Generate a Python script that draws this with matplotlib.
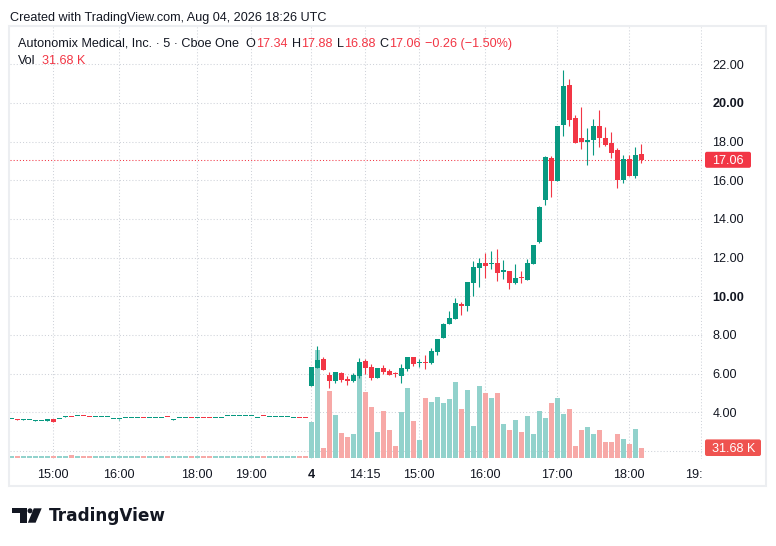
import matplotlib
matplotlib.use("Agg")
import matplotlib.pyplot as plt
import matplotlib.transforms as mtransforms
from matplotlib.patches import Rectangle, FancyBboxPatch, Polygon, Circle
import numpy as np

# ---------------- data ----------------
# previous session (Aug 03, late hours), 5-minute bars
prev_open = [3.64, 3.63, 3.62, 3.61, 3.57, 3.56, 3.55, 3.65, 3.64, 3.74, 3.75, 3.78, 3.80, 3.75,
             3.73, 3.73, 3.73, 3.66, 3.64, 3.68, 3.68, 3.71, 3.70, 3.71, 3.68, 3.68, 3.75, 3.62,
             3.68, 3.71, 3.70, 3.68, 3.70, 3.70, 3.68, 3.68, 3.78, 3.78, 3.78, 3.78, 3.78, 3.71,
             3.80, 3.73, 3.73, 3.73, 3.73, 3.69, 3.70, 3.70]
prev_close = [3.65, 3.62, 3.63, 3.62, 3.58, 3.57, 3.65, 3.48, 3.65, 3.75, 3.74, 3.79, 3.79, 3.74,
              3.74, 3.74, 3.74, 3.67, 3.65, 3.69, 3.69, 3.72, 3.69, 3.72, 3.69, 3.69, 3.74, 3.63,
              3.69, 3.72, 3.69, 3.69, 3.69, 3.69, 3.69, 3.69, 3.79, 3.79, 3.79, 3.79, 3.79, 3.72,
              3.79, 3.74, 3.74, 3.74, 3.74, 3.70, 3.69, 3.69]
prev_high = [3.66, 3.63, 3.67, 3.62, 3.58, 3.57, 3.66, 3.66, 3.65, 3.80, 3.75, 3.80, 3.80, 3.75,
             3.74, 3.74, 3.74, 3.67, 3.65, 3.69, 3.69, 3.72, 3.70, 3.72, 3.69, 3.69, 3.75, 3.63,
             3.69, 3.72, 3.70, 3.69, 3.70, 3.70, 3.69, 3.69, 3.79, 3.79, 3.79, 3.79, 3.79, 3.72,
             3.80, 3.74, 3.74, 3.74, 3.74, 3.70, 3.70, 3.70]
prev_low = [3.63, 3.58, 3.62, 3.61, 3.55, 3.56, 3.55, 3.48, 3.64, 3.74, 3.74, 3.78, 3.79, 3.74,
            3.73, 3.73, 3.73, 3.66, 3.62, 3.68, 3.68, 3.71, 3.69, 3.71, 3.68, 3.68, 3.74, 3.62,
            3.68, 3.71, 3.69, 3.68, 3.69, 3.69, 3.68, 3.68, 3.78, 3.78, 3.78, 3.78, 3.78, 3.71,
            3.79, 3.73, 3.73, 3.73, 3.73, 3.69, 3.69, 3.69]
prev_volume_k = [4, 4, 4, 4, 4, 4, 5, 5, 4, 4, 9, 4, 4, 4, 4, 4, 4, 4, 4, 4, 4, 4, 4, 4, 4,
                 4, 4, 4, 4, 4, 4, 4, 4, 4, 4, 4, 4, 4, 4, 4, 4, 4, 4, 4, 4, 4, 4, 4, 4, 4]

# Aug 04 session, 5-minute bars
day_open = [5.38, 6.31, 6.75, 5.93, 5.63, 6.03, 5.72, 5.62, 5.87, 6.65, 6.34, 5.77, 6.29, 6.13,
            6.01, 5.87, 6.24, 6.86, 6.55, 6.60, 6.55, 7.12, 7.84, 8.57, 8.83, 9.60, 9.50, 10.69,
            11.46, 11.72, 11.67, 11.72, 11.27, 11.31, 10.69, 11.00, 10.84, 11.67, 12.81, 15.00,
            17.15, 15.98, 18.88, 20.93, 19.22, 18.19, 18.00, 18.09, 18.81, 18.19, 17.93, 17.58,
            16.03, 17.10, 16.24, 17.34]
day_high = [6.36, 7.44, 6.87, 6.08, 6.10, 6.06, 5.87, 6.01, 6.80, 6.74, 6.51, 6.31, 6.46, 6.25,
            6.10, 6.51, 6.88, 6.88, 6.75, 6.96, 7.32, 7.80, 8.60, 9.24, 9.93, 9.72, 10.76, 11.84,
            11.98, 12.24, 12.34, 12.45, 11.88, 11.33, 11.67, 11.31, 11.93, 12.66, 14.65, 17.26,
            17.26, 18.83, 21.70, 21.24, 19.38, 19.79, 18.70, 19.17, 19.64, 18.76, 18.50, 17.67,
            17.31, 17.31, 17.72, 17.88]
day_low = [5.36, 6.28, 6.16, 5.27, 5.53, 5.58, 5.43, 5.58, 5.79, 5.99, 5.67, 5.76, 5.99, 5.92,
           5.82, 5.53, 6.15, 6.39, 6.34, 6.25, 6.50, 6.98, 7.82, 8.55, 8.80, 9.05, 9.24, 10.02,
           10.48, 10.95, 11.41, 10.79, 10.89, 10.39, 10.64, 10.70, 10.82, 11.65, 12.78, 14.74,
           15.15, 15.96, 18.29, 18.83, 17.93, 17.64, 16.81, 17.33, 17.74, 17.79, 17.17, 15.62,
           15.88, 16.22, 16.14, 16.88]
day_close = [6.34, 6.70, 6.18, 5.62, 6.08, 5.67, 5.63, 5.93, 6.60, 6.31, 5.79, 6.29, 6.08, 5.93,
             5.96, 6.29, 6.86, 6.50, 6.60, 6.55, 7.17, 7.79, 8.57, 8.88, 9.65, 9.50, 10.74, 11.52,
             11.72, 11.57, 11.74, 11.22, 11.34, 10.69, 10.95, 10.95, 11.72, 12.65, 14.62, 17.20,
             15.98, 18.81, 20.88, 19.14, 17.95, 18.00, 18.09, 18.81, 18.21, 17.84, 17.43, 16.03,
             17.10, 16.24, 17.31, 17.06]
day_volume_k = [113, 341, 31, 211, 135, 78, 66, 75, 259, 208, 161, 81, 148, 88, 37, 145, 221, 116,
                56, 189, 176, 192, 173, 186, 240, 154, 214, 100, 227, 205, 189, 205, 107, 88, 119,
                81, 132, 75, 148, 126, 173, 189, 138, 154, 37, 88, 97, 75, 88, 50, 50, 75, 59, 43,
                91, 31.68]

# time-axis labels and the bar (counted from the first Aug 04 bar) each one sits on
tick_labels = ["15:00", "16:00", "18:00", "19:00", "4", "14:15", "15:00", "16:00", "17:00",
               "18:00", "19:00"]
tick_bars = [-43, -32, -19, -10, 0, 9, 18, 29, 41, 53, 65]
bold_tick_labels = ["4"]

price_grid = [2, 4, 6, 8, 10, 12, 14, 16, 18, 20, 22]
price_labels = [4, 6, 8, 10, 12, 14, 16, 18, 20, 22]
bold_prices = [10, 20]

last_price = 17.06
last_volume_k = 31.68
header_title = "Autonomix Medical, Inc. \u00b7 5 \u00b7 Cboe One"
ohlc_values = [("O", "17.34"), ("H", "17.88"), ("L", "16.88"), ("C", "17.06")]
change_text = "\u22120.26 (\u22121.50%)"
created_text = "Created with TradingView.com, Aug 04, 2026 18:26 UTC"

# ---------------- style ----------------
W, H = 776, 546
GREEN = "#089981"
RED = "#F23645"
VGREEN = "#92D2CC"
VRED = "#F7A9A7"
TXT = "#131722"
GRID = "#cfd2d9"
FONT = "Liberation Sans"
FS = 9.1

plt.rcParams["font.family"] = [FONT, "DejaVu Sans"]
fig = plt.figure(figsize=(W / 100, H / 100), dpi=100)
fig.patch.set_facecolor("white")

PX = mtransforms.Affine2D().scale(1.0 / W, -1.0 / H).translate(0, 1) + fig.transFigure


def fpos(xp, yp):
    return xp / W, 1 - yp / H


# pane geometry (pixels)
PL, PR, PT, PB = 10, 702, 27, 459
rect = [PL / W, 1 - PB / H, (PR - PL) / W, (PB - PT) / H]

vax = fig.add_axes(rect, zorder=1)
ax = fig.add_axes(rect, zorder=2, sharex=vax)
ax.patch.set_alpha(0)
for a in (ax, vax):
    a.set_axis_off()

n_prev = len(prev_close)
x = np.arange(-n_prev, len(day_close))
o = np.array(prev_open + day_open)
hi = np.array(prev_high + day_high)
lo = np.array(prev_low + day_low)
c = np.array(prev_close + day_close)
vol = np.array(prev_volume_k + day_volume_k, dtype=float)

xl = (-50.2, 65.15)
ax.set_xlim(*xl)
ax.set_ylim(1.581, 23.93)
vax.set_ylim(-4.12, 1364.5)

px_per_unit = (PB - PT) / (23.93 - 1.581)

# grid (bottom layer, drawn in vax so volume covers it)
hgrid_tr = mtransforms.blended_transform_factory(vax.transAxes, ax.transData)
for p in price_grid:
    vax.plot([0, 1], [p, p], transform=hgrid_tr, color=GRID, lw=0.75,
             ls=(0, (1, 2)), zorder=0, clip_on=False)
for tb in tick_bars:
    vax.axvline(tb, color=GRID, lw=0.75, ls=(0, (1, 2)), zorder=0)

up = c >= o
vcol = np.where(up, VGREEN, VRED)
vax.bar(x, vol, width=0.84, color=vcol, linewidth=0, zorder=2)

# last price line
ax.axhline(last_price, color=RED, lw=0.75, ls=(0, (1, 2)), zorder=1)

ccol = np.where(up, GREEN, RED)
ax.vlines(x, lo, hi, colors=ccol, lw=0.8, zorder=3)
body_bottom = np.minimum(o, c)
body_h = np.maximum(np.abs(c - o), 1.05 / px_per_unit)
ax.bar(x, body_h, bottom=body_bottom, width=0.8, color=ccol, linewidth=0, zorder=4)

# chart frame
fig.patches.append(Rectangle((9, 26), 757, 460, transform=PX, fill=False,
                             edgecolor="#eceef1", lw=1.5))

# price labels
lab_tr = mtransforms.offset_copy(
    mtransforms.blended_transform_factory(fig.transFigure, ax.transData),
    fig=fig, x=0, y=-4.4, units="dots")
for p in price_labels:
    fig.text(712.5 / W, p, f"{p:.2f}", transform=lab_tr, fontsize=FS, color=TXT,
             ha="left", va="baseline", fontweight="bold" if p in bold_prices else "normal")


def yd_to_px(axis, val):
    return H - axis.transData.transform((0, val))[1] * H / fig.bbox.height


# last price box
yc = yd_to_px(ax, last_price)
fig.patches.append(FancyBboxPatch((705, yc - 8), 46, 16, transform=PX,
                                  boxstyle="round,pad=0,rounding_size=2",
                                  facecolor=RED, edgecolor="none"))
fig.text(*fpos(712.5, yc + 4.4), f"{last_price:.2f}", fontsize=FS, color="white",
         ha="left", va="baseline")

# last volume box
yv = yd_to_px(vax, last_volume_k)
fig.patches.append(FancyBboxPatch((705, yv - 8.3), 56, 16.6, transform=PX,
                                  boxstyle="round,pad=0,rounding_size=2",
                                  facecolor="#EF5350", edgecolor="none"))
fig.text(*fpos(712.5, yv + 4.4), f"{last_volume_k:.2f} K", fontsize=FS, color="white",
         ha="left", va="baseline")

# time labels (clipped at the pane edge)
tax = fig.add_axes([PL / W, 1 - 486 / H, (PR - PL) / W, (486 - PB) / H], zorder=0)
tax.set_axis_off()
tax.set_xlim(*xl)
tax.set_ylim(0, 1)
tl_tr = mtransforms.blended_transform_factory(tax.transData, fig.transFigure)
for tb, lab in zip(tick_bars, tick_labels):
    t = tax.text(tb, 1 - 477.5 / H, lab, transform=tl_tr, fontsize=FS, color=TXT,
                 ha="center", va="baseline",
                 fontweight="bold" if lab in bold_tick_labels else "normal")
    t.set_clip_on(True)
    t.set_clip_box(tax.bbox)

# header texts
fig.text(*fpos(10, 20.7), created_text, fontsize=FS, color=TXT, ha="left", va="baseline")

renderer = fig.canvas.get_renderer()


def seq_text(x0, ybase, pieces):
    xcur = x0
    for s, col, gap in pieces:
        t = fig.text(*fpos(xcur, ybase), s, fontsize=FS, color=col, ha="left", va="baseline")
        bb = t.get_window_extent(renderer)
        xcur += bb.width * W / fig.bbox.width + gap


pieces = [(header_title, TXT, 6.5)]
for k, v in ohlc_values:
    pieces.append((k, TXT, 0.0))
    pieces.append((v, RED, 4.5))
pieces.append((change_text, RED, 0))
seq_text(18.3, 46.7, pieces)
seq_text(18.3, 64.0, [("Vol", TXT, 6.0), (f"{last_volume_k:.2f} K", RED, 0)])

# TradingView logo
logo = [
    Polygon([(12.3, 508.3), (26.7, 508.3), (26.7, 522.7), (20.0, 522.7), (20.0, 513.3),
             (12.3, 513.3)], closed=True),
    Circle((30.0, 510.8), 2.5),
    Polygon([(33.8, 508.3), (41.7, 508.3), (35.6, 522.7), (27.9, 522.7)], closed=True),
]
for pch in logo:
    pch.set_transform(PX)
    pch.set_facecolor(TXT)
    pch.set_edgecolor("none")
    fig.patches.append(pch)
fig.text(*fpos(48.5, 520.7), "TradingView", family="DejaVu Sans", fontweight="bold",
         fontsize=12.2, color=TXT, ha="left", va="baseline")

fig.savefig("out.png", dpi=100, facecolor="white")
